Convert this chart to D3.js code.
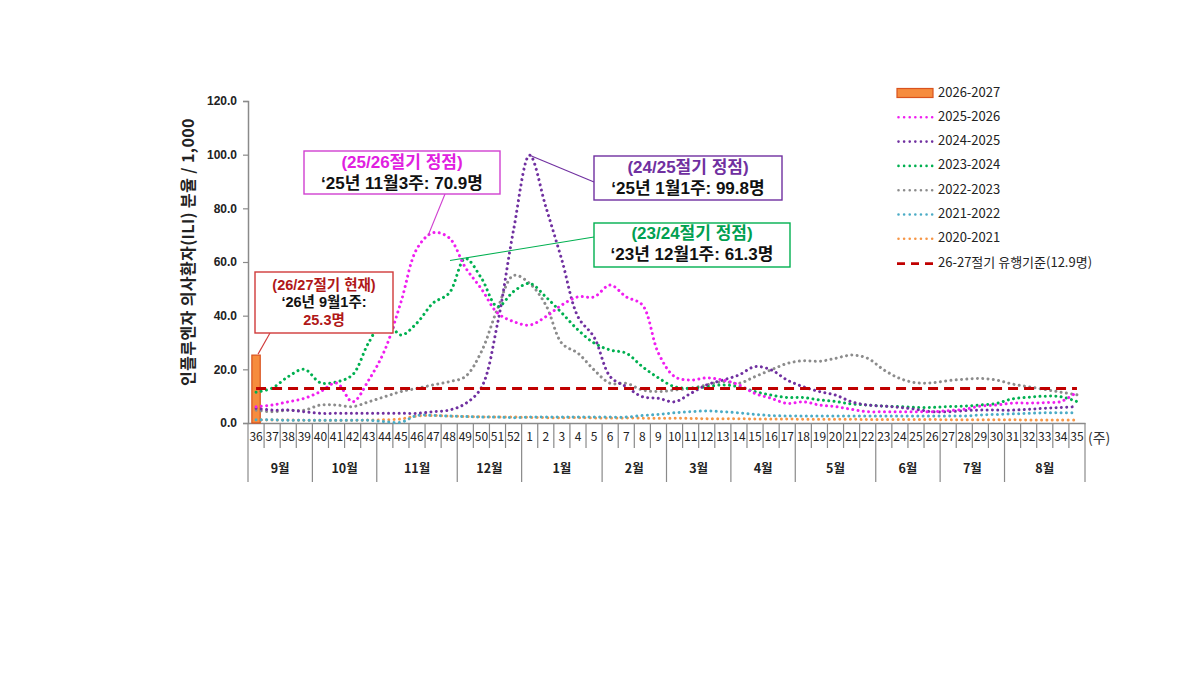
<!DOCTYPE html>
<html><head><meta charset="utf-8">
<script src="https://cdn.jsdelivr.net/npm/d3@7"></script>
<style>html,body{margin:0;padding:0;background:#fff;} svg{display:block;}</style>
</head><body>
<svg id="chart" width="1200" height="675"></svg>
<script>
// ---------- DATA ----------
const weeks = ["36","37","38","39","40","41","42","43","44","45","46","47","48","49","50","51","52",
  "1","2","3","4","5","6","7","8","9","10","11","12","13","14","15","16","17","18","19","20","21","22",
  "23","24","25","26","27","28","29","30","31","32","33","34","35"];
const monthLabels = ["9월","10월","11월","12월","1월","2월","3월","4월","5월","6월","7월","8월"];
const monthWeekCounts = [4,4,5,4,5,4,4,4,5,4,4,5];
const yTicks = [0,20,40,60,80,100,120];

const barWeeks = ["36"];
const bar2026_2027 = [25.3];

const s2025_2026 = [6.1,6.7,7.9,9.2,11.7,14.9,7.9,16,27.2,45,65,70.9,69,58,50,41,37.8,36.5,39.6,44,47,47,51.4,47,44,26,17.3,16,16.8,16,14.2,11,9.2,7.3,7.9,6.7,6.1,5.1,4.2,4.2,4.2,4.2,4.2,4.6,5.1,6.3,6.7,7.4,7.4,7.6,8,11.5];
const s2024_2025 = [5.5,4.8,4.8,4.2,3.6,3.6,3.6,3.6,3.6,3.6,3.6,4.2,4.8,7.2,13.2,37,72,99.8,80.6,60.7,39.6,32,17.3,13.5,9.8,9.2,7.9,11,14.2,16,17.9,21,19.8,16,13.5,11.7,10.4,7.9,6.7,6.3,5.8,5.1,4.2,4.2,4.6,4.8,4.8,4.8,5.1,5.5,5.8,6.1];
const s2023_2024 = [11.5,13,17.3,20,15,15.3,18,30,38.4,32.8,37.3,44.7,48.4,61.3,54,43.4,49,52,47,41,34.7,29.8,27.2,26,21,16.8,13.5,13,13.5,14.2,13.5,11.7,10.4,9.5,9.5,8.6,8,7.1,6.7,6.3,6.1,5.8,5.8,6.1,6.3,6.7,7.3,9,9.6,10,9.8,8];
const s2022_2023 = [4.8,4.2,4.8,4.8,6.7,6.7,6.1,7.9,9.8,11.7,12.9,14.2,15.4,17.3,26.6,42.5,55,52,44,29.7,26,19.8,14.8,14.8,12.3,11.7,12.3,12.9,14.2,15.4,14.8,17.3,19.8,22.2,23.2,23,24.1,25.3,24.1,19.8,16.6,15,15,15.8,16.3,16.6,16,14.5,13.5,12.5,11.5,10.5];
const s2021_2022 = [1.2,1.2,1.0,1.0,1.0,1.0,1.0,1.0,0.5,0.3,2.8,2.8,2.6,2.4,2.2,2.2,2.0,2.2,2.2,2.2,2.2,2.2,2.2,2.2,2.8,3.2,3.8,4.2,4.5,4.2,3.8,3.2,2.8,2.6,2.6,2.6,2.6,2.6,2.6,2.6,2.6,2.6,2.6,2.6,2.6,3.0,3.2,3.4,3.6,3.8,3.8,3.8];
const s2020_2021 = [1.2,1.1,1.1,1.0,1.0,1.0,1.0,1.1,1.2,1.5,2.6,2.8,2.6,2.4,2.3,2.2,2.2,2.1,2.0,2.0,2.0,1.9,1.9,1.9,1.8,1.8,1.8,1.7,1.6,1.6,1.6,1.5,1.5,1.5,1.4,1.4,1.4,1.4,1.3,1.3,1.3,1.3,1.3,1.2,1.2,1.2,1.2,1.2,1.1,1.1,1.1,1.1];
const threshold = 12.9;

const seriesNames = ["2025-2026","2024-2025","2023-2024","2022-2023","2021-2022","2020-2021"];
const seriesValues = [s2025_2026,s2024_2025,s2023_2024,s2022_2023,s2021_2022,s2020_2021];
const seriesColors = ["#f01ef0","#7030a0","#00b050","#8c8c8c","#4bacc6","#f79646"];
const barName = "2026-2027";
const thresholdName = "26-27절기 유행기준(12.9명)";

// ---------- CHART ----------
const KR = "'Noto Sans CJK KR','Noto Sans',sans-serif";
const KR_TIGHT = "'Liberation Sans','Noto Sans CJK KR',sans-serif";
const svg = d3.select("#chart");
svg.append("rect").attr("width",1200).attr("height",675).attr("fill","#fff");

const x = d3.scaleBand().domain(weeks).range([248,1085]).padding(0);
const y = d3.scaleLinear().domain([0,120]).range([423,101]);
const cx = w => x(w) + x.bandwidth()/2;
const axisColor = "#8a8a8a";

// y axis
const yAxis = svg.append("g").attr("transform","translate(248,0)")
  .call(d3.axisLeft(y).tickValues(yTicks).tickFormat(d3.format(".1f")).tickSize(5).tickPadding(6));
yAxis.select(".domain").attr("stroke",axisColor).attr("stroke-width",1.5);
yAxis.selectAll(".tick line").attr("stroke",axisColor).attr("stroke-width",1.2);
yAxis.selectAll(".tick text").attr("font-family","'Liberation Sans',Arial,sans-serif")
  .attr("font-size",12).attr("font-weight","bold").attr("fill","#222");

svg.append("text")
  .attr("transform","translate(190,252) rotate(-90)")
  .attr("text-anchor","middle").attr("dominant-baseline","middle")
  .attr("font-family",KR).attr("font-size",16).attr("font-weight","bold").attr("fill","#222")
  .attr("letter-spacing",0.4)
  .text("인플루엔자 의사환자(ILI) 분율 / 1,000");

// x axis (week labels)
const xAxis = svg.append("g").attr("transform","translate(0,423)")
  .call(d3.axisBottom(x).tickSize(0).tickPadding(9));
xAxis.select(".domain").attr("stroke",axisColor).attr("stroke-width",1.5);
xAxis.selectAll(".tick text").attr("font-family",KR).attr("font-size",12).attr("fill","#222");

// week separators
const sepG = svg.append("g").attr("stroke",axisColor).attr("stroke-width",1.2);
const bounds = weeks.map(w => x(w)).concat([x.range()[1]]);
let monthBoundIdx = [0]; monthWeekCounts.reduce((a,c)=>{monthBoundIdx.push(a+c); return a+c;},0);
bounds.forEach((bx,k) => {
  const isMonth = monthBoundIdx.includes(k);
  sepG.append("line").attr("x1",bx).attr("x2",bx).attr("y1",423).attr("y2", isMonth ? 482 : 448);
});
// month labels
monthLabels.forEach((m,i) => {
  const a = bounds[monthBoundIdx[i]], b = bounds[monthBoundIdx[i+1]];
  svg.append("text").attr("x",(a+b)/2).attr("y",470).attr("text-anchor","middle")
    .attr("dominant-baseline","middle").attr("font-family",KR).attr("font-size",12.5)
    .attr("font-weight","bold").attr("fill","#222").text(m);
});
svg.append("text").attr("x",1088).attr("y",439).attr("dominant-baseline","middle")
  .attr("font-family",KR).attr("font-size",14).attr("fill","#333").text("(주)");

// bar
svg.append("g").selectAll("rect").data(bar2026_2027).join("rect")
  .attr("x",(d,i)=>cx(barWeeks[i]) - x.bandwidth()*0.26)
  .attr("width",x.bandwidth()*0.52)
  .attr("y",d=>y(d)).attr("height",d=>y(0)-y(d))
  .attr("fill","#f68c3e").attr("stroke","#d9531e").attr("stroke-width",1.2);

// lines (draw from oldest so newest on top)
const line = d3.line().x((d,i)=>cx(weeks[i])).y(d=>y(d)).curve(d3.curveCatmullRom.alpha(0.5));
const lineG = svg.append("g");
for (let k = seriesValues.length-1; k >= 0; k--) {
  lineG.append("path").attr("d", line(seriesValues[k])).attr("fill","none")
    .attr("stroke",seriesColors[k]).attr("stroke-width",3)
    .attr("stroke-linecap","round").attr("stroke-dasharray","0.01 5.3");
}
// threshold
svg.append("line").attr("x1",cx(weeks[0])).attr("x2",cx(weeks[weeks.length-1]))
  .attr("y1",y(threshold)).attr("y2",y(threshold))
  .attr("stroke","#c00000").attr("stroke-width",3).attr("stroke-dasharray","10 6");

// ---------- LEGEND ----------
const lg = svg.append("g").attr("transform","translate(897,93)");
const rowH = 24.3;
lg.append("rect").attr("x",0).attr("y",-4.5).attr("width",36).attr("height",9)
  .attr("fill","#f68c3e").attr("stroke","#d9531e").attr("stroke-width",1.2);
lg.append("text").attr("x",41).attr("y",0).attr("dominant-baseline","middle")
  .attr("font-family",KR).attr("font-size",13).attr("fill","#222").text(barName);
seriesNames.forEach((n,k) => {
  const yy = rowH*(k+1);
  lg.append("line").attr("x1",1.5).attr("x2",36).attr("y1",yy).attr("y2",yy)
    .attr("stroke",seriesColors[k]).attr("stroke-width",2.6).attr("stroke-linecap","round")
    .attr("stroke-dasharray","0.01 5.6");
  lg.append("text").attr("x",41).attr("y",yy).attr("dominant-baseline","middle")
    .attr("font-family",KR).attr("font-size",13).attr("fill","#222").text(n);
});
{
  const yy = rowH*7 + 0.5;
  lg.append("line").attr("x1",0).attr("x2",36).attr("y1",yy).attr("y2",yy)
    .attr("stroke","#c00000").attr("stroke-width",2.6).attr("stroke-dasharray","8 6");
  lg.append("text").attr("x",41).attr("y",yy).attr("dominant-baseline","middle")
    .attr("font-family",KR).attr("font-size",13).attr("fill","#222").text(thresholdName);
}

// ---------- ANNOTATIONS ----------
function box(b) {
  const g = svg.append("g");
  g.append("line").attr("x1",b.lx1).attr("y1",b.ly1).attr("x2",b.lx2).attr("y2",b.ly2)
    .attr("stroke",b.border).attr("stroke-width",1.1);
  g.append("rect").attr("x",b.x).attr("y",b.y).attr("width",b.w).attr("height",b.h)
    .attr("fill","#fff").attr("stroke",b.border).attr("stroke-width",1.4);
  b.lines.forEach(l => {
    g.append("text").attr("x",b.x+b.w/2).attr("y",l.y).attr("text-anchor","middle")
      .attr("dominant-baseline","middle").attr("font-family",KR_TIGHT).attr("font-size",b.fs)
      .attr("font-weight","bold").attr("fill",l.c).text(l.t);
  });
}
box({x:255,y:272,w:138,h:61,border:"#d03a3a",fs:14.5,
  lx1:270,ly1:333,lx2:cx("36")+2,ly2:y(25.3)-1,
  lines:[{t:"(26/27절기 현재)",c:"#b01818",y:286},{t:"‘26년 9월1주:",c:"#111",y:303},{t:"25.3명",c:"#b01818",y:321}]});
box({x:304,y:151,w:196,h:43,border:"#d040d0",fs:17,
  lx1:445,ly1:194,lx2:428,ly2:y(70.9)+3,
  lines:[{t:"(25/26절기 정점)",c:"#e020e0",y:164},{t:"‘25년 11월3주: 70.9명",c:"#111",y:185}]});
box({x:594,y:156,w:188,h:44,border:"#7030a0",fs:17,
  lx1:594,ly1:182,lx2:cx("1"),ly2:y(99.8),
  lines:[{t:"(24/25절기 정점)",c:"#7030a0",y:169},{t:"‘25년 1월1주: 99.8명",c:"#111",y:190}]});
box({x:594,y:223,w:196,h:44,border:"#00b050",fs:17,
  lx1:594,ly1:237,lx2:450,ly2:y(61.3)+2,
  lines:[{t:"(23/24절기 정점)",c:"#00a050",y:235},{t:"‘23년 12월1주: 61.3명",c:"#111",y:256}]});
</script>
</body></html>
